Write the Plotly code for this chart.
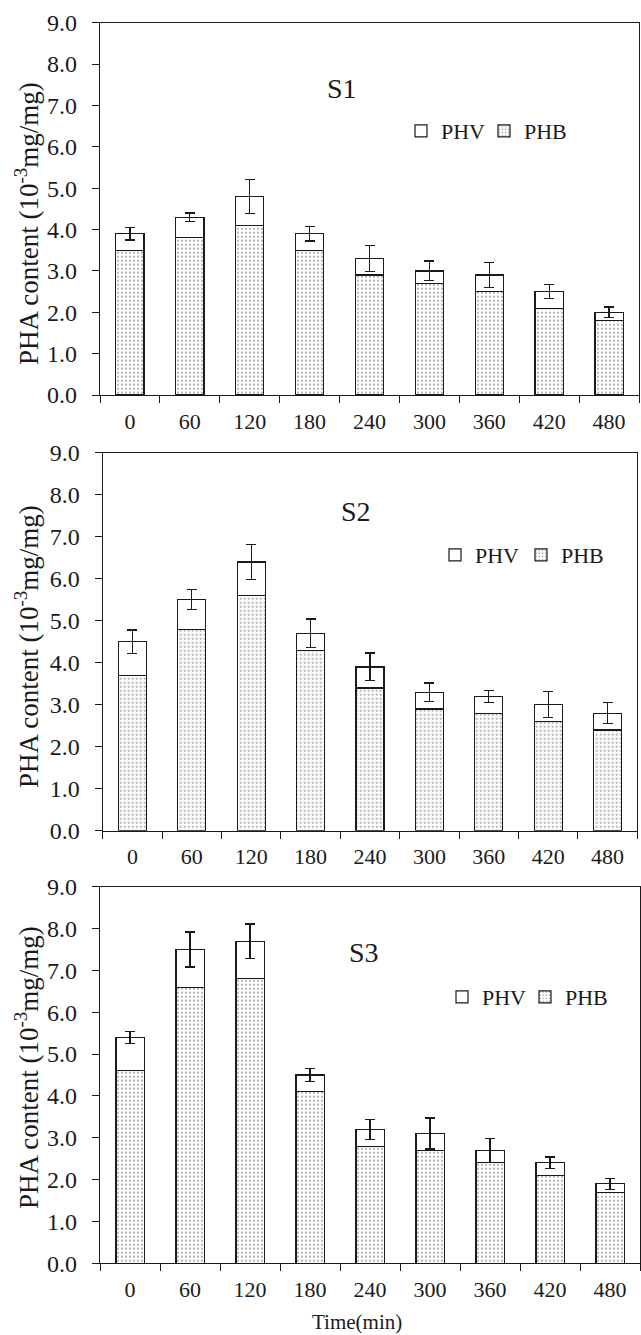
import plotly.graph_objects as go

times = ["0", "60", "120", "180", "240", "300", "360", "420", "480"]

s1_total = [3.9, 4.3, 4.8, 3.9, 3.3, 3.0, 2.9, 2.5, 2.0]
s1_phb = [3.5, 3.8, 4.1, 3.5, 2.9, 2.7, 2.5, 2.1, 1.8]
s1_err = [0.15, 0.10, 0.41, 0.18, 0.31, 0.24, 0.30, 0.17, 0.13]

s2_total = [4.5, 5.5, 6.4, 4.7, 3.9, 3.3, 3.2, 3.0, 2.8]
s2_phb = [3.7, 4.8, 5.6, 4.3, 3.4, 2.9, 2.8, 2.6, 2.4]
s2_err = [0.28, 0.24, 0.42, 0.34, 0.33, 0.22, 0.14, 0.31, 0.25]

s3_total = [5.4, 7.5, 7.7, 4.5, 3.2, 3.1, 2.7, 2.4, 1.9]
s3_phb = [4.6, 6.6, 6.8, 4.1, 2.8, 2.7, 2.4, 2.1, 1.7]
s3_err = [0.14, 0.42, 0.41, 0.16, 0.24, 0.37, 0.29, 0.14, 0.13]

panels = [
    ("S1", s1_total, s1_phb, s1_err),
    ("S2", s2_total, s2_phb, s2_err),
    ("S3", s3_total, s3_phb, s3_err),
]

W, H = 641, 1335
FONT = "Liberation Serif, Times New Roman, serif"
INK = "#1a1a1a"

# pixel geometry of each panel: (x0, x1, ytop, ybottom)
geom = [
    (100, 639, 22.7, 395.0),
    (102.7, 637.3, 452.7, 830.7),
    (100, 640, 886.7, 1263.3),
]
label_pos = [(342, 88), (356, 512), (364, 952)]
# legend x for PHV and PHB entries, and legend centre y
legend_pos = [(401, 484, 131), (435, 521, 555), (442, 525, 997)]
ytitle_center = [224, 647, 1068]

fig = go.Figure()
for i, (name, total, phb, err) in enumerate(panels):
    phv = [round(t - b, 2) for t, b in zip(total, phb)]
    n = "" if i == 0 else str(i + 1)
    leg_v = "legend" + ("" if i == 0 else str(2 * i + 1))
    leg_b = "legend" + str(2 * i + 2)
    fig.add_trace(go.Bar(
        x=times, y=phb, name="PHB", xaxis="x" + n, yaxis="y" + n,
        marker=dict(color="white", line=dict(color=INK, width=1.2),
                    pattern=dict(shape=".", fgcolor="#333333", bgcolor="white",
                                 size=4, solidity=0.18)),
        legend=leg_b, showlegend=True,
    ))
    fig.add_trace(go.Bar(
        x=times, y=phv, name="PHV", xaxis="x" + n, yaxis="y" + n,
        marker=dict(color="white", line=dict(color=INK, width=1.2)),
        error_y=dict(type="data", array=err, visible=True, color=INK,
                     thickness=1.3, width=5),
        legend=leg_v, showlegend=True,
    ))

    x0, x1, yt, yb = geom[i]
    xd = [x0 / W, x1 / W]
    yd = [1 - yb / H, 1 - yt / H]
    fig.layout["xaxis" + n] = dict(
        domain=xd, anchor="y" + n, type="category", tickson="boundaries",
        ticks="outside", ticklen=7, tickwidth=1.3, tickcolor=INK,
        showline=True, linecolor=INK, linewidth=1.3, mirror=True,
        showgrid=False, zeroline=False, automargin=False,
        tickfont=dict(family=FONT, size=22, color=INK), ticklabelstandoff=6,
    )
    fig.layout["yaxis" + n] = dict(
        domain=yd, anchor="x" + n, range=[0, 9], dtick=1, tickformat=".1f",
        ticks="outside", ticklen=7, tickwidth=1.3, tickcolor=INK,
        showline=True, linecolor=INK, linewidth=1.3, mirror=True,
        showgrid=False, zeroline=False, automargin=False,
        tickfont=dict(family=FONT, size=24, color=INK), ticklabelstandoff=10,
    )
    xv, xb, ly = legend_pos[i]
    for leg, lx in ((leg_v, xv), (leg_b, xb)):
        fig.layout[leg] = dict(
            x=lx / W, y=1 - ly / H, xanchor="left", yanchor="middle",
            orientation="h", bgcolor="rgba(0,0,0,0)",
            font=dict(family=FONT, size=22, color=INK), itemwidth=30,
            itemclick=False,
        )
    sx, sy = label_pos[i]
    fig.add_annotation(text=name, x=sx / W, y=1 - sy / H, xref="paper", yref="paper",
                       xanchor="center", yanchor="middle",
                       showarrow=False, font=dict(family=FONT, size=28, color=INK))
    fig.add_annotation(text="PHA content (10<sup>-3</sup>mg/mg)", x=27 / W,
                       y=1 - ytitle_center[i] / H, xref="paper", yref="paper",
                       xanchor="center", yanchor="middle",
                       textangle=-90, showarrow=False,
                       font=dict(family=FONT, size=27, color=INK))

fig.add_annotation(text="Time(min)", x=357 / W, y=1 - 1322 / H, xref="paper", yref="paper",
                   xanchor="center", yanchor="middle",
                   showarrow=False, font=dict(family=FONT, size=21, color=INK))

fig.update_layout(
    width=W, height=H, barmode="stack", bargap=0.53, showlegend=True,
    margin=dict(l=0, r=0, t=0, b=0),
    plot_bgcolor="white", paper_bgcolor="white",
    font=dict(family=FONT, color=INK),
)

fig.write_html("out.html", config={"displayModeBar": False},
               post_script="document.body.style.margin='0';")
